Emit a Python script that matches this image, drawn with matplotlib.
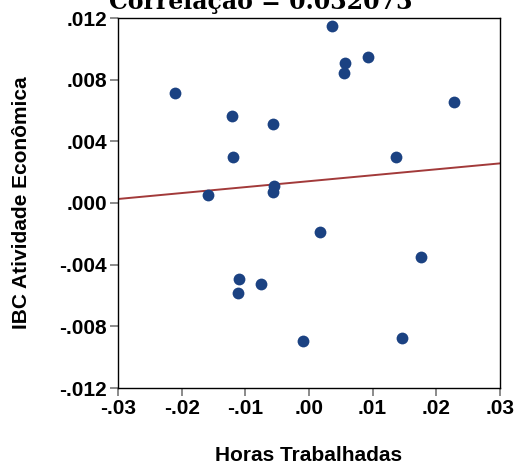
import numpy as np
import matplotlib
matplotlib.use("Agg")
import matplotlib.pyplot as plt
from matplotlib.ticker import FuncFormatter

# data
horas = [0.00366, 0.00560, 0.00550, 0.00932, -0.0210, 0.02277, -0.01214, -0.00566,
         -0.01189, 0.01366, -0.00555, -0.00571, -0.01591, 0.00178, 0.01759,
         -0.01104, -0.00754, -0.0112, -0.00099, 0.01456]
ibc = [0.0115, 0.00906, 0.00841, 0.00945, 0.00711, 0.00657, 0.00562, 0.00514,
       0.00300, 0.00300, 0.00112, 0.00069, 0.00052, -0.0019, -0.00348,
       -0.00491, -0.00523, -0.00582, -0.00895, -0.00873]
fit_x = [-0.03, 0.03]
fit_y = [0.00026, 0.00257]
xticks = [-0.03, -0.02, -0.01, 0.0, 0.01, 0.02, 0.03]
yticks = [-0.012, -0.008, -0.004, 0.0, 0.004, 0.008, 0.012]

plt.rcParams['font.family'] = ['Liberation Sans', 'DejaVu Sans']

fig = plt.figure(figsize=(5.16, 4.68), dpi=100)
ax = fig.add_axes([118/516, 1 - 388/468, 382/516, 370/468])

ax.plot(fit_x, fit_y, color='#a23a3a', linewidth=1.4, zorder=2)
ax.plot(horas, ibc, 'o', color='#1b4282', markersize=8.5, markeredgewidth=0, zorder=3)

ax.set_xlim(-0.03, 0.03)
ax.set_ylim(-0.012, 0.012)
ax.set_xticks(xticks)
ax.set_yticks(yticks)

def fmt(decimals):
    def f(v, pos):
        s = f"{v:.{decimals}f}"
        if s.startswith('-0'):
            s = '-' + s[2:]
        elif s.startswith('0'):
            s = s[1:]
        return s
    return FuncFormatter(f)

ax.xaxis.set_major_formatter(fmt(2))
ax.yaxis.set_major_formatter(fmt(3))
ax.tick_params(direction='out', length=6, width=1.2, color='#777777',
               labelsize=15, pad=2)
for lab in ax.get_xticklabels() + ax.get_yticklabels():
    lab.set_fontweight('bold')
for sp in ax.spines.values():
    sp.set_linewidth(1.0)
    sp.set_color('black')

ax.set_xlabel("Horas Trabalhadas", fontsize=15, fontweight='bold', labelpad=20)
ax.set_ylabel("IBC Atividade Econômica", fontsize=15, fontweight='bold', labelpad=20)

fig.text(0.505, 1 - 9/468, "Correlação = 0.032073", ha='center', va='baseline',
         fontsize=17, fontweight='bold', family=['DejaVu Serif'])

fig.savefig("out.png", dpi=100)
